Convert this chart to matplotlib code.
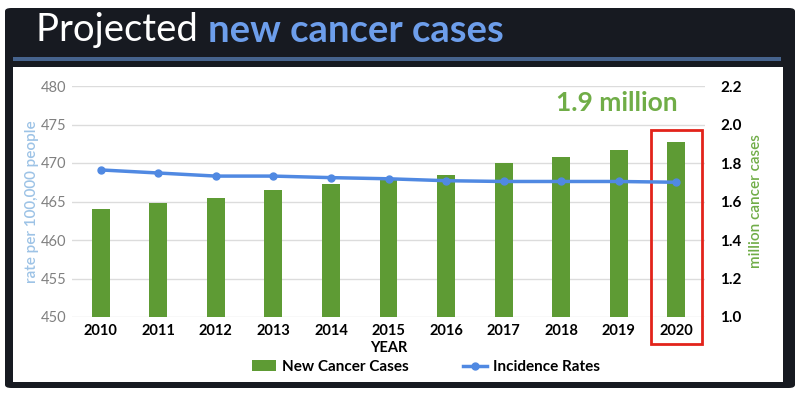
import matplotlib.pyplot as plt
from matplotlib.patches import FancyBboxPatch, Rectangle
from matplotlib.lines import Line2D
from matplotlib.patches import Patch

years = ['2010', '2011', '2012', '2013', '2014', '2015',
         '2016', '2017', '2018', '2019', '2020']
new_cases = [1.56, 1.59, 1.62, 1.66, 1.69, 1.72, 1.74, 1.80, 1.83, 1.87, 1.91]
incidence = [469.1, 468.7, 468.3, 468.3, 468.1, 467.95, 467.7, 467.6, 467.6, 467.6, 467.5]
left_ticks = [450, 455, 460, 465, 470, 475, 480]
right_ticks = [1.0, 1.2, 1.4, 1.6, 1.8, 2.0, 2.2]

plt.rcParams['font.family'] = ['Lato', 'DejaVu Sans']

green = '#5e9b34'
blue = '#5089e2'

fig = plt.figure(figsize=(8, 3.96), dpi=100)
fig.patch.set_facecolor('white')

# dark slide panel, separator line, white chart card (behind the axes)
fig.patches.append(FancyBboxPatch((5 / 800, 1 - 388 / 396), 790 / 800, 380 / 396,
                                  boxstyle='round,pad=0,rounding_size=0.008',
                                  transform=fig.transFigure, facecolor='#171a21',
                                  edgecolor='none', zorder=-3))
fig.patches.append(Rectangle((13 / 800, 1 - 61 / 396), 768 / 800, 4 / 396,
                             transform=fig.transFigure, facecolor='#46638d',
                             edgecolor='none', zorder=-2))
fig.patches.append(Rectangle((13 / 800, 1 - 382 / 396), 770 / 800, 315 / 396,
                             transform=fig.transFigure, facecolor='white',
                             edgecolor='none', zorder=-1))

# title
t1 = fig.text(36 / 800, 1 - 41 / 396, 'Projected ', color='white', fontsize=27.5,
              va='baseline', ha='left')
t2 = plt.Annotation('new cancer cases', xy=(1, 0), xycoords=t1,
                    va='bottom', ha='left', color='#6d9eeb',
                    fontsize=27.5, fontweight='bold')
fig.texts.append(t2)
t2.set_figure(fig)

ax = fig.add_axes([72 / 800, 1 - 317 / 396, 633 / 800, 231 / 396])
ax2 = ax.twinx()
ax.set_zorder(ax2.get_zorder() + 1)
ax.patch.set_visible(False)

x = list(range(len(years)))
bars = ax2.bar(x, new_cases, width=0.31, color=green, zorder=2)
line, = ax.plot(x, incidence, color=blue, linewidth=2.5, marker='o',
                markersize=5, zorder=3)

ax.set_xlim(-0.5, 10.5)
ax.set_ylim(450, 480)
ax2.set_ylim(1.0, 2.2)
ax.set_yticks(left_ticks)
ax2.set_yticks(right_ticks)
ax2.set_yticklabels(['%.1f' % v for v in right_ticks])
ax.set_xticks(x)
ax.set_xticklabels(years, fontweight='bold', fontsize=10.5)

ax2.yaxis.grid(True, color='#dcdcdc', linewidth=1)
ax2.set_axisbelow(True)
for a in (ax, ax2):
    for s in a.spines.values():
        s.set_visible(False)
ax.tick_params(axis='both', length=0)
ax2.tick_params(axis='y', length=0, labelsize=11, pad=11)
for lab in ax2.get_yticklabels():
    lab.set_fontweight('bold')
ax.tick_params(axis='y', labelsize=10.5, labelcolor='#808080', pad=4)
ax.tick_params(axis='x', pad=5)

ax.set_xlabel('YEAR', fontweight='bold', fontsize=10.5, labelpad=2)
ax.set_ylabel('rate per 100,000 people', color='#9dc3e6', fontsize=11,
              fontweight='semibold', labelpad=1)
ax2.set_ylabel('million cancer cases', color='#70ad47', fontsize=11,
               fontweight='semibold', rotation=90, labelpad=5)

ax2.text(8.97, 2.11, '1.9 million', color='#70ad47', fontsize=19,
         fontweight='bold', ha='center', va='center')

ax2.add_patch(Rectangle((10 - 0.44, 0.862), 0.88, 1.97 - 0.862, fill=False,
                        edgecolor='#e2231a', linewidth=2, clip_on=False, zorder=5))

handles = [Patch(facecolor=green, edgecolor='none'),
           Line2D([0], [0], color=blue, linewidth=2.5, marker='o', markersize=5)]
fig.legend(handles, ['New Cancer Cases', 'Incidence Rates'], loc='center',
           bbox_to_anchor=(426 / 800, 1 - 367 / 396), ncol=2, frameon=False,
           prop={'weight': 'bold', 'size': 11}, columnspacing=3.5,
           handlelength=1.6, handletextpad=0.4)

plt.savefig('out.png', dpi=100)
